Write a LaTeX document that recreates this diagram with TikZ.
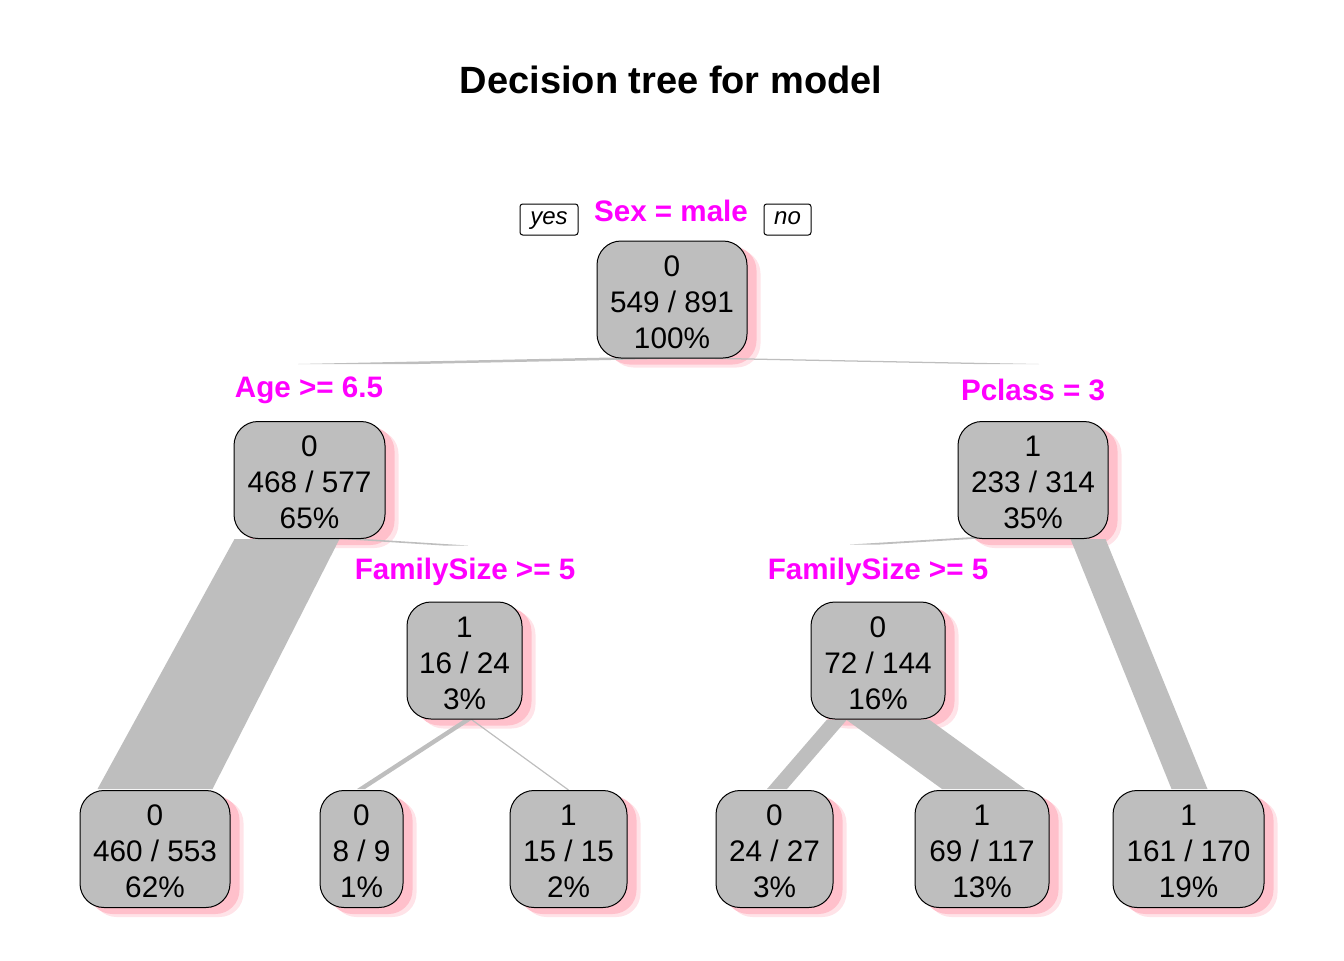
\documentclass[tikz,border=0pt]{standalone}
\usepackage{fontspec}
\setmainfont{Liberation Sans}
\usetikzlibrary{calc}
\definecolor{boxgrey}{HTML}{BEBEBE}
\definecolor{shpink}{HTML}{FFC0CB}
\definecolor{splitmag}{HTML}{FF00FF}
\pgfdeclarelayer{shadowlayer}
\pgfdeclarelayer{branchlayer}
\pgfsetlayers{shadowlayer,branchlayer,main}
\newcommand{\topstrut}{\rule{0pt}{19pt}}
\begin{document}
\begin{tikzpicture}[x=0.75pt,y=-0.75pt,
  tbox/.style={draw=black, line width=0.75pt, fill=boxgrey, rounded corners=18pt, inner sep=0pt,
    minimum height=87.75pt, align=center, font=\fontsize{22.3}{27}\selectfont},
  split/.style={text=splitmag, font=\fontsize{22.2}{27}\selectfont\bfseries, anchor=base, inner sep=2pt, fill=white},
  yn/.style={draw=black, line width=0.75pt, fill=white, rounded corners=2pt, minimum height=23.25pt,
    inner sep=0pt, text height=11pt, text depth=3pt, font=\fontsize{18}{20}\selectfont\itshape},
  branch/.style={fill=boxgrey},
  shadowout/.style={fill=shpink!45, rounded corners=18pt},
  shadowin/.style={fill=shpink, rounded corners=18pt},
]
\useasboundingbox (0,0) rectangle (1344,960);

% title
\node[font=\fontsize{28.5}{34}\selectfont\bfseries, anchor=base] (title) at (671,93.5) {Decision tree for model};

% boxes
\node[tbox, minimum width=112.5pt] (root) at (672,299.5) {\topstrut0\\549 / 891\\100\%};
\node[tbox, minimum width=113.25pt] (age) at (309.5,480) {\topstrut0\\468 / 577\\65\%};
\node[tbox, minimum width=112.5pt] (pcl) at (1033,480) {\topstrut1\\233 / 314\\35\%};
\node[tbox, minimum width=86.25pt] (fsl) at (464.5,660.5) {\topstrut1\\16 / 24\\3\%};
\node[tbox, minimum width=100.5pt] (fsr) at (878,660.5) {\topstrut0\\72 / 144\\16\%};
\node[tbox, minimum width=112.5pt] (l1) at (155,849) {\topstrut0\\460 / 553\\62\%};
\node[tbox, minimum width=62.25pt] (l2) at (361.5,849) {\topstrut0\\8 / 9\\1\%};
\node[tbox, minimum width=87.75pt] (l3) at (568.5,849) {\topstrut1\\15 / 15\\2\%};
\node[tbox, minimum width=87.75pt] (l4) at (774.5,849) {\topstrut0\\24 / 27\\3\%};
\node[tbox, minimum width=100.5pt] (l5) at (982,849) {\topstrut1\\69 / 117\\13\%};
\node[tbox, minimum width=113.25pt] (l6) at (1188.5,849) {\topstrut1\\161 / 170\\19\%};

% shadows
\begin{pgfonlayer}{shadowlayer}
\foreach \n in {root,age,pcl,fsl,fsr,l1,l2,l3,l4,l5,l6}{
  \fill[shadowout] ($(\n.south west)+(13,9)$) rectangle ($(\n.north east)+(13,9)$);
  \fill[shadowin] ($(\n.south west)+(9,6)$) rectangle ($(\n.north east)+(9,6)$);
}
\end{pgfonlayer}

% branches
\begin{pgfonlayer}{branchlayer}
\fill[branch] ($(root.south)+(-61,-1)$) -- ($(root.south)+(59,-1)$) -- ($(age.north)+(108.5,-57)$) -- ($(age.north)+(-11.5,-57)$) -- cycle;
\fill[branch] ($(root.south)+(-34,-1)$) -- ($(root.south)+(31,-1)$) -- ($(pcl.north)+(6,-57)$) -- ($(pcl.north)+(-59,-57)$) -- cycle;
\fill[branch] ($(age.south west)+(1,0)$) -- ($(age.south west)+(106,0)$) -- ($(l1.north west)+(133,-1)$) -- ($(l1.north west)+(18,-1)$) -- cycle;
\fill[branch] ($(age.south west)+(107,0)$) -- ($(age.south west)+(132,0)$) -- ($(fsl.north)+(3.5,-56)$) -- ($(fsl.north)+(-21.5,-56)$) -- cycle;
\fill[branch] ($(pcl.south west)+(17,-2)$) -- ($(pcl.south west)+(47,-2)$) -- ($(fsr.north)+(2,-57)$) -- ($(fsr.north)+(-28,-57)$) -- cycle;
\fill[branch] ($(pcl.south west)+(113,0)$) -- ($(pcl.south west)+(148,0)$) -- ($(l6.north west)+(95,-1)$) -- ($(l6.north west)+(59,-1)$) -- cycle;
\fill[branch] ($(fsl.south)+(-0.5,0)$) -- ($(fsl.south)+(7.5,0)$) -- ($(l2.north)+(3.5,-1)$) -- ($(l2.north)+(-4.5,-1)$) -- cycle;
\draw[boxgrey, line width=0.9pt] ($(fsl.south)+(7,0)$) -- (l3.north);
\fill[branch] ($(fsr.south)+(-51,0)$) -- ($(fsr.south)+(-31,0)$) -- ($(l4.north)+(12.5,-1)$) -- ($(l4.north)+(-7.5,-1)$) -- cycle;
\fill[branch] ($(fsr.south)+(-32,0)$) -- ($(fsr.south)+(51,0)$) -- ($(l5.north)+(43,-1)$) -- ($(l5.north)+(-40,-1)$) -- cycle;
\end{pgfonlayer}

% yes / no
\node[yn, minimum width=43.5pt] (yes) at (549,219.5) {yes};
\node[yn, minimum width=35.25pt] (no) at (787.5,219.5) {no};

% split labels
\node[split] (ssex) at (671,221) {Sex = male};
\node[split] (sage) at (309,397) {Age >= 6.5};
\node[split] (spcl) at (1033,400) {Pclass = 3};
\node[split] (sfsl) at (465,579) {FamilySize >= 5};
\node[split] (sfsr) at (878,579) {FamilySize >= 5};
\end{tikzpicture}
\end{document}
